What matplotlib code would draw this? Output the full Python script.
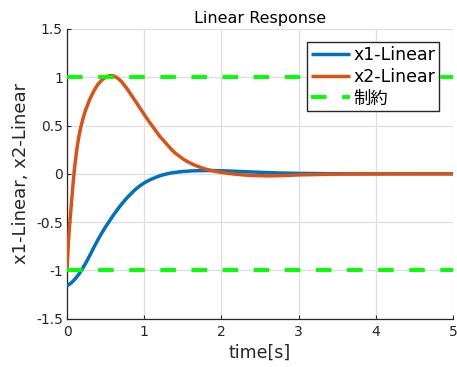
import matplotlib
matplotlib.use("Agg")
import matplotlib.pyplot as plt

plt.rcParams['font.family'] = ['DejaVu Sans', 'Noto Sans CJK JP']
plt.rcParams['axes.unicode_minus'] = False

# time samples (s)
t_x1 = [0.0, 0.05, 0.1, 0.15, 0.2, 0.25, 0.3, 0.35, 0.4, 0.45, 0.5, 0.55, 0.6,
        0.65, 0.7, 0.75, 0.8, 0.85, 0.9, 0.95, 1.0, 1.05, 1.1, 1.15, 1.2, 1.25,
        1.3, 1.35, 1.4, 1.5, 1.6, 1.7, 1.8, 1.9, 2.0, 2.2, 2.4, 2.6, 2.8, 3.0,
        3.5, 4.0, 4.5, 5.0]
x1_linear = [-1.16, -1.135, -1.095, -1.045, -0.985, -0.915, -0.84, -0.76, -0.685,
             -0.615, -0.55, -0.49, -0.43, -0.375, -0.322, -0.275, -0.23, -0.19,
             -0.153, -0.122, -0.095, -0.073, -0.054, -0.037, -0.022, -0.01,
             0.0, 0.008, 0.014, 0.023, 0.029, 0.032, 0.033, 0.033, 0.031,
             0.025, 0.018, 0.012, 0.007, 0.004, 0.0, -0.001, 0.0, 0.0]

t_x2 = [0.0, 0.01, 0.02, 0.03, 0.04, 0.05, 0.06, 0.07, 0.08, 0.09, 0.1, 0.11,
        0.125, 0.15, 0.175, 0.2, 0.225, 0.25, 0.275, 0.3, 0.325, 0.35, 0.375,
        0.4, 0.45, 0.5, 0.55, 0.6, 0.65, 0.7, 0.75, 0.8, 0.85, 0.9, 0.95, 1.0,
        1.05, 1.1, 1.15, 1.2, 1.25, 1.3, 1.35, 1.4, 1.45, 1.5, 1.55, 1.6, 1.65,
        1.7, 1.75, 1.8, 1.9, 2.0, 2.1, 2.2, 2.3, 2.4, 2.6, 2.8, 3.0, 3.5, 4.0,
        4.5, 5.0]
x2_linear = [-1.0, -0.84, -0.69, -0.57, -0.47, -0.375, -0.28, -0.185, -0.09,
             -0.005, 0.075, 0.14, 0.24, 0.37, 0.47, 0.55, 0.62, 0.68, 0.73,
             0.78, 0.82, 0.86, 0.895, 0.925, 0.97, 1.0, 1.017, 1.015, 0.995,
             0.96, 0.91, 0.855, 0.795, 0.735, 0.675, 0.615, 0.555, 0.50, 0.445,
             0.39, 0.345, 0.30, 0.255, 0.215, 0.185, 0.155, 0.13, 0.11, 0.09,
             0.075, 0.06, 0.047, 0.028, 0.014, 0.003, -0.006, -0.013, -0.018,
             -0.022, -0.019, -0.012, -0.004, 0.0, 0.0, 0.0]

t_limit = [0.0, 5.0]
upper_limit = [1.0, 1.0]
lower_limit = [-1.0, -1.0]

x_ticks = [0, 1, 2, 3, 4, 5]
y_ticks = [-1.5, -1, -0.5, 0, 0.5, 1, 1.5]
y_tick_labels = ['-1.5', '-1', '-0.5', '0', '0.5', '1', '1.5']

fig = plt.figure(figsize=(4.57, 3.67), dpi=100)
ax = fig.add_axes([67/457, (367-318.5)/367, (453-67)/457, (318.5-29)/367])

dark = '#262626'
ax.plot(t_x1, x1_linear, color='#0072BD', lw=2.5, label='x1-Linear', zorder=3,
        solid_joinstyle='round', solid_capstyle='butt')
ax.plot(t_x2, x2_linear, color='#D95319', lw=2.5, label='x2-Linear', zorder=4,
        solid_joinstyle='round', solid_capstyle='butt')
ax.plot(t_limit, upper_limit, color='#00FF00', lw=2.8, dashes=(4, 4),
        label='制約', zorder=5)
ax.plot(t_limit, lower_limit, color='#00FF00', lw=2.8, dashes=(4, 4), zorder=5)

ax.set_xlim(0, 5)
ax.set_ylim(-1.5, 1.5)
ax.set_xticks(x_ticks)
ax.set_yticks(y_ticks)
ax.set_yticklabels(y_tick_labels)
ax.grid(True, color='#dfdfdf', lw=0.9)
ax.set_axisbelow(True)
for s in ['top', 'right']:
    ax.spines[s].set_visible(False)
for s in ['left', 'bottom']:
    ax.spines[s].set_color(dark)
    ax.spines[s].set_linewidth(0.9)
ax.tick_params(direction='in', length=3, width=0.8, colors=dark,
               labelsize=10, labelcolor=dark)
ax.tick_params(axis='x', pad=5)
ax.tick_params(axis='y', pad=3)

ax.set_title('Linear Response', fontsize=11.5, color='black', pad=4)
ax.set_xlabel('time[s]', fontsize=12.5, color=dark, labelpad=3)
ax.set_ylabel('x1-Linear, x2-Linear', fontsize=13, color=dark, labelpad=4)

leg = ax.legend(loc='upper right', bbox_to_anchor=((439-67)/386, (318.5-42)/289.5),
                borderaxespad=0, fontsize=12.5, handlelength=2.25,
                handletextpad=0.2, labelspacing=0.22, borderpad=0.22,
                fancybox=False, framealpha=1, edgecolor=dark)
leg.get_frame().set_linewidth(1.0)
for txt in leg.get_texts():
    txt.set_color('black')

fig.savefig('out.png', dpi=100)
